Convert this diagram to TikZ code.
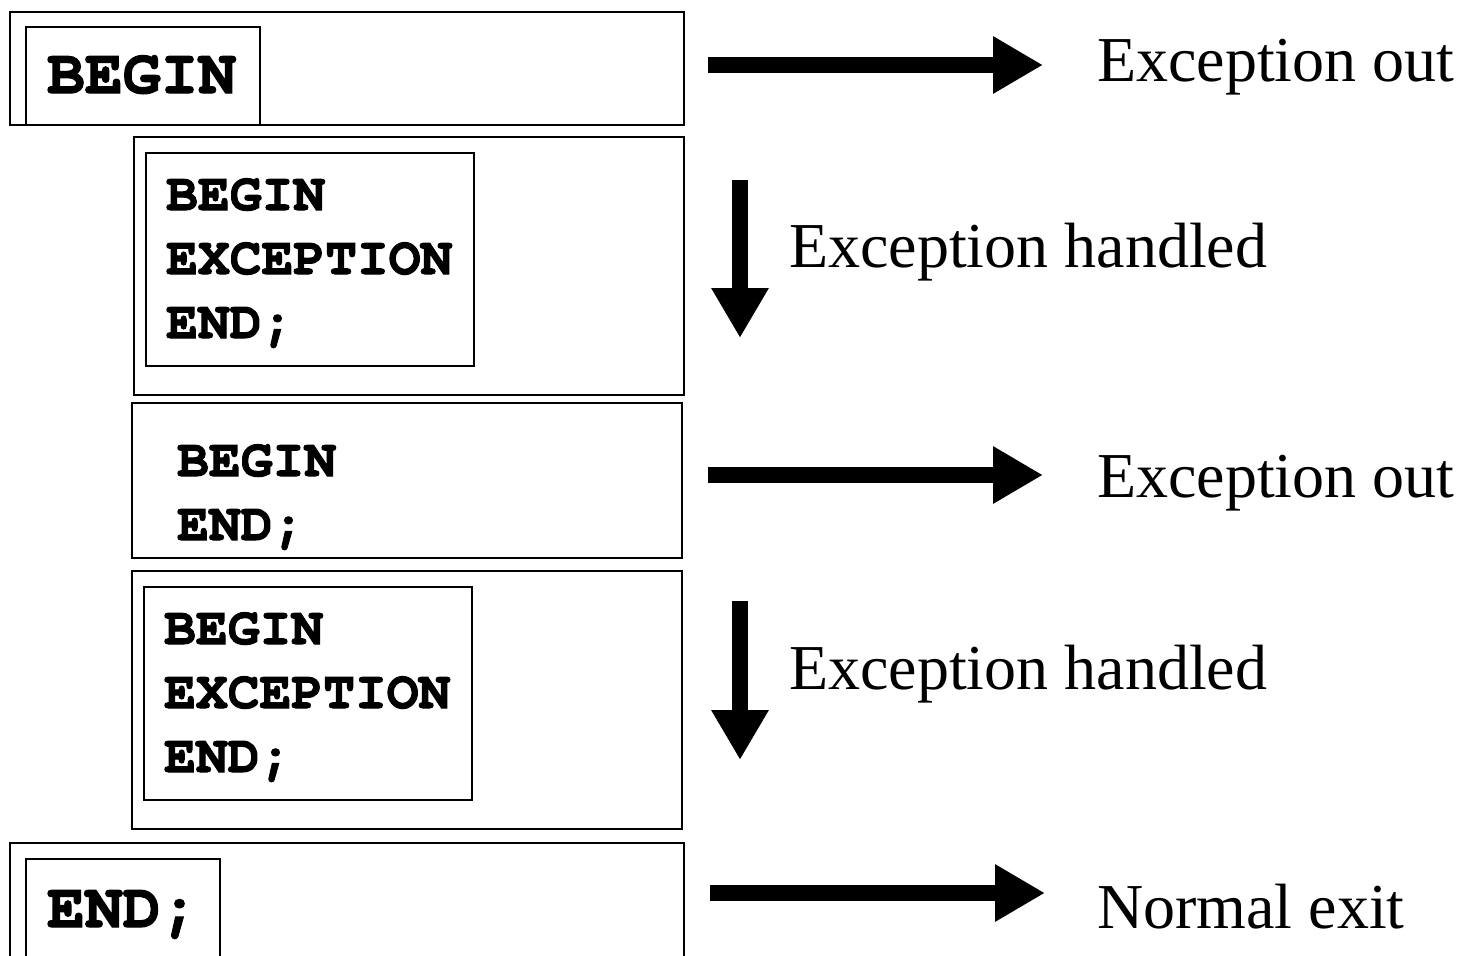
\documentclass[tikz,border=0pt]{standalone}
\usepackage{fontspec}
\newfontfamily\codefont{TeX Gyre Cursor}[BoldFeatures={FakeBold=2}]
\newfontfamily\labelfont{Liberation Serif}
\usetikzlibrary{arrows.meta}
\tikzset{
  outerbox/.style={line width=2pt},
  innerbox/.style={line width=1.6pt},
  codeline/.style={anchor=base west,inner sep=0,font=\codefont\bfseries\fontsize{53}{64}\selectfont},
  bigcode/.style={codeline,font=\codefont\bfseries\fontsize{63}{63}\selectfont},
  msg/.style={anchor=base west,inner sep=0,font=\labelfont\fontsize{64}{64}\selectfont},
  fatarrow/.style={line width=16pt,-{Triangle[length=50pt,width=54pt]}}
}
\begin{document}
\begin{tikzpicture}[x=1pt,y=-1pt]
\clip(0,0)rectangle(1460,956);
%outer block, top
\draw[outerbox](10,12)rectangle(684,125);
\draw[innerbox](26,27)rectangle(260,125);
\node[bigcode](topbegin)at(47,93){BEGIN};
%first nested block with handler
\draw[outerbox](134,137)rectangle(684,395);
\draw[innerbox](146,153)rectangle(474,366);
\node[codeline](aBegin)at(166,210){BEGIN};
\node[codeline](aExc)at(166,274){EXCEPTION};
\node[codeline](aEnd)at(166,338){END;};
%nested block without handler
\draw[outerbox](132,403)rectangle(682,558);
\node[codeline](bBegin)at(177,476){BEGIN};
\node[codeline](bEnd)at(177,540){END;};
%second nested block with handler
\draw[outerbox](132,571)rectangle(682,829);
\draw[innerbox](144,587)rectangle(472,800);
\node[codeline](cBegin)at(164,644){BEGIN};
\node[codeline](cExc)at(164,708){EXCEPTION};
\node[codeline](cEnd)at(164,772){END;};
%outer block, bottom
\draw[outerbox](10,970)--(10,843)--(684,843)--(684,970);
\draw[innerbox](26,970)--(26,859)--(220,859)--(220,970);
\node[bigcode](topend)at(47,927){END;};
%arrows
\draw[fatarrow](708,65)--(1043,65);
\draw[fatarrow](740,180)--(740,338);
\draw[fatarrow](708,475)--(1043,475);
\draw[fatarrow](740,601)--(740,760);
\draw[fatarrow](710,893)--(1045,893);
%labels
\node[msg](out1)at(1097,81){Exception out};
\node[msg](hand1)at(789,267){Exception handled};
\node[msg](out2)at(1097,497){Exception out};
\node[msg](hand2)at(789,689){Exception handled};
\node[msg](exit)at(1097,928){Normal exit};
\end{tikzpicture}
\end{document}
